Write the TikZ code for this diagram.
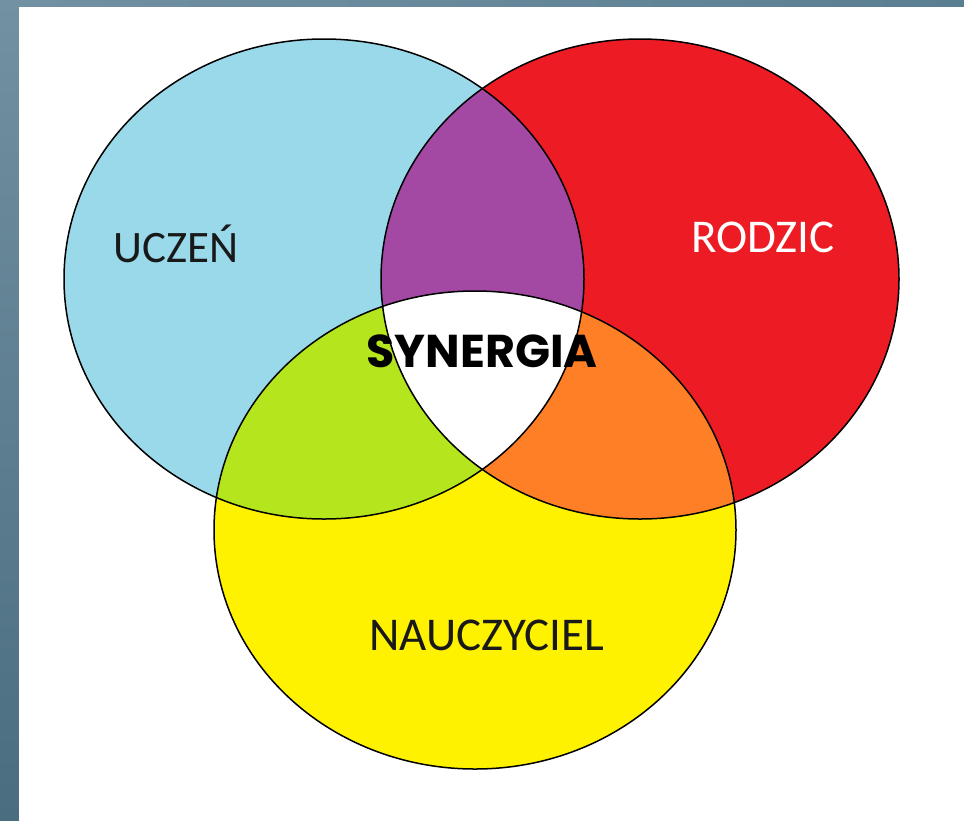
\documentclass[tikz,border=0pt]{standalone}
\usepackage{fontspec}
\newfontfamily\calibri{Carlito}
\newfontfamily\gothic{Poppins}
\definecolor{cblue}{HTML}{99D9EA}
\definecolor{cred}{HTML}{ED1C24}
\definecolor{cyellow}{HTML}{FFF200}
\definecolor{cpurple}{HTML}{A349A4}
\definecolor{cgreen}{HTML}{B5E61D}
\definecolor{corange}{HTML}{FF7F27}
\definecolor{bgA}{HTML}{7291A2}
\definecolor{bgB}{HTML}{4A6D80}
\definecolor{bgC}{HTML}{5A7F91}
\tikzset{
  outline/.style={draw=black, line width=1.5pt},
  lbl/.style={font=\calibri\fontsize{45}{50}\selectfont, anchor=base, inner sep=0pt},
}
\def\blueE{(324,279) ellipse [x radius=260, y radius=240]}
\def\redE{(640,279) ellipse [x radius=259, y radius=240]}
\def\yelE{(475,530) ellipse [x radius=261, y radius=239]}
\begin{document}
\begin{tikzpicture}[x=1pt,y=-1pt]
\useasboundingbox (0,0) rectangle (964,820);
% background
\shade[top color=bgA, bottom color=bgB] (0,0) rectangle (19,820);
\shade[left color=bgA, right color=bgC] (0,0) rectangle (964,7);
\fill[white] (19,7) rectangle (964,820);
% circles
\fill[cblue] \blueE;
\fill[cred] \redE;
\fill[cyellow] \yelE;
\begin{scope}
  \clip \blueE;
  \fill[cpurple] \redE;
\end{scope}
\begin{scope}
  \clip \blueE;
  \fill[cgreen] \yelE;
\end{scope}
\begin{scope}
  \clip \redE;
  \fill[corange] \yelE;
\end{scope}
\begin{scope}
  \clip \blueE;
  \clip \redE;
  \fill[white] \yelE;
\end{scope}
\draw[outline] \blueE;
\draw[outline] \redE;
\draw[outline] \yelE;
% labels
\node[lbl, text=black!90] (uczen) at (176,262) {UCZEŃ};
\node[lbl, text=white, font=\calibri\fontsize{47}{50}\selectfont] (rodzic) at (763,252) {RODZIC};
\node[lbl, text=black!90, font=\calibri\fontsize{47}{50}\selectfont] (nauczyciel) at (487,650) {NAUCZYCIEL};
\node[font=\gothic\bfseries\fontsize{46}{50}\selectfont, anchor=base, inner sep=0pt] (synergia) at (482,367) {SYNERGIA};
\end{tikzpicture}
\end{document}
